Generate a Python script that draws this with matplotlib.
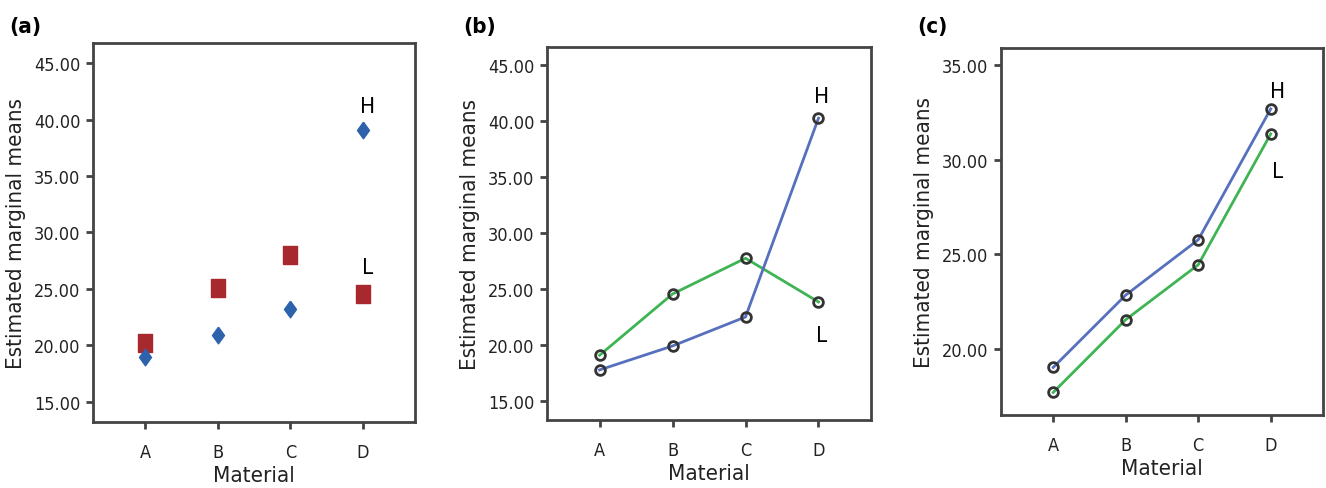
import matplotlib
matplotlib.use("Agg")
import matplotlib.pyplot as plt

plt.rcParams['font.family'] = ['DejaVu Sans']
plt.rcParams['font.stretch'] = 'condensed'

# Dane
materials = ['A', 'B', 'C', 'D']
a_high = [18.96, 20.93, 23.23, 39.07]
a_low = [20.22, 25.06, 28.00, 24.56]
b_high = [17.77, 19.91, 22.50, 40.24]
b_low = [19.08, 24.55, 27.74, 23.84]
c_high = [19.03, 22.85, 25.77, 32.68]
c_low = [17.71, 21.55, 24.45, 31.36]

yticks_ab = [15, 20, 25, 30, 35, 40, 45]
yticks_c = [20, 25, 30, 35]

blue = '#5670bd'
green = '#3fb454'
frame = '#444444'

# znaczniki jak w SPSS
diamond = [(0, 1), (0.72, 0), (0, -1), (-0.72, 0), (0, 1)]
rect = [(-0.8, -1), (0.8, -1), (0.8, 1), (-0.8, 1), (-0.8, -1)]

fig = plt.figure(figsize=(13.26, 4.89), dpi=100)
ax_a = fig.add_axes([0.0701, 0.135, 0.2429, 0.775])
ax_b = fig.add_axes([0.4125, 0.139, 0.2444, 0.763])
ax_c = fig.add_axes([0.7549, 0.149, 0.2428, 0.751])

x = list(range(len(materials)))

# (a) same punkty
ax_a.plot(x, a_low, marker=rect, color='#a8292d', markersize=13, linestyle='none')
ax_a.plot(x, a_high, marker=diamond, color='#2d62ac', markersize=12, linestyle='none')
ax_a.set_ylim(13.23, 46.77)
ax_a.set_yticks(yticks_ab)
ax_a.text(3.06, 41.2, 'H', ha='center', va='center', fontsize=16)
ax_a.text(3.06, 26.95, 'L', ha='center', va='center', fontsize=16)

# (b) linie
ax_b.plot(x, b_low, '-o', color=green, lw=2, markersize=7, mfc='none', mec='#333333', mew=2)
ax_b.plot(x, b_high, '-o', color=blue, lw=2, markersize=7, mfc='none', mec='#333333', mew=2)
ax_b.set_ylim(13.3, 46.6)
ax_b.set_yticks(yticks_ab)
ax_b.text(3.04, 42.2, 'H', ha='center', va='center', fontsize=16)
ax_b.text(3.04, 20.9, 'L', ha='center', va='center', fontsize=16)

# (c) linie
ax_c.plot(x, c_low, '-o', color=green, lw=2, markersize=7, mfc='none', mec='#333333', mew=2)
ax_c.plot(x, c_high, '-o', color=blue, lw=2, markersize=7, mfc='none', mec='#333333', mew=2)
ax_c.set_ylim(16.51, 35.9)
ax_c.set_yticks(yticks_c)
ax_c.text(3.1, 33.63, 'H', ha='center', va='center', fontsize=16)
ax_c.text(3.1, 29.42, 'L', ha='center', va='center', fontsize=16)

for ax, lab in zip([ax_a, ax_b, ax_c], ['(a)', '(b)', '(c)']):
    ax.set_xlim(-0.72, 3.72)
    ax.set_xticks(x)
    ax.set_xticklabels(materials)
    ax.set_yticklabels(['%.2f' % v for v in ax.get_yticks()])
    ax.tick_params(direction='out', length=5, width=2, color=frame, labelsize=13,
                   labelcolor='#222222', pad=4)
    ax.tick_params(axis='x', pad=10)
    for s in ax.spines.values():
        s.set_color(frame)
        s.set_linewidth(2)
    ax.set_xlabel('Material', fontsize=16, color='#222222', labelpad=3)
    ax.set_ylabel('Estimated marginal means', fontsize=16, color='#222222', labelpad=6)
    pos = ax.get_position()
    fig.text(pos.x0 - 0.063, 0.965, lab, fontsize=16, fontweight='bold', va='top', ha='left')

fig.savefig('out.png', dpi=100)
